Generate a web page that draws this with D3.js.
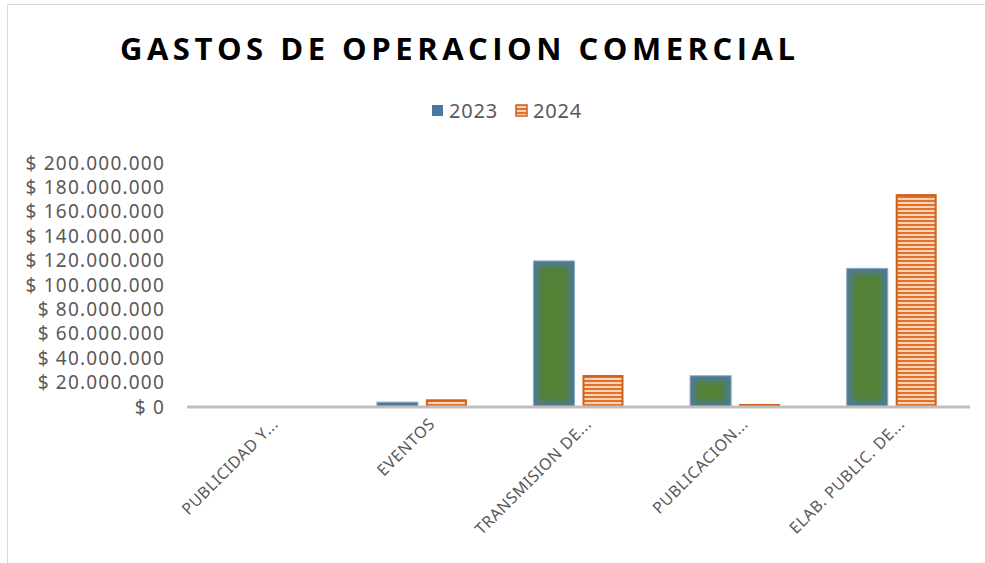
<!DOCTYPE html>
<html>
<head>
<meta charset="utf-8">
<script src="https://cdn.jsdelivr.net/npm/d3@7"></script>
<style>
  body { margin: 0; background: #fff; }
  svg { display: block; }
</style>
</head>
<body>
<script>
// data
var categories = ['PUBLICIDAD Y...', 'EVENTOS', 'TRANSMISION DE...', 'PUBLICACION...', 'ELAB. PUBLIC. DE...']
var years = ['2023', '2024']
var values2023 = [0, 4000000, 119700000, 25600000, 113600000]
var values2024 = [0, 6300000, 26200000, 2500000, 174500000]
var yTicks = [0, 20000000, 40000000, 60000000, 80000000, 100000000, 120000000, 140000000, 160000000, 180000000, 200000000]

var width = 985
var height = 563
var margin = { top: 163, right: 15, bottom: 156, left: 187 }

var svg = d3.select('body').append('svg')
  .attr('width', width)
  .attr('height', height)

var defs = svg.append('defs')

// horizontal stripes for 2024
var pat = defs.append('pattern')
  .attr('id', 'stripes')
  .attr('patternUnits', 'userSpaceOnUse')
  .attr('width', 8)
  .attr('height', 4)
pat.append('rect').attr('width', 8).attr('height', 4).attr('fill', '#fbd3b5')
pat.append('rect').attr('width', 8).attr('height', 2).attr('fill', '#e2712c')

// soft green glow inside the 2023 bars
defs.append('filter')
  .attr('id', 'soft')
  .attr('x', '-20%').attr('y', '-20%').attr('width', '140%').attr('height', '140%')
  .append('feGaussianBlur')
  .attr('stdDeviation', 3)

// frame
svg.append('path')
  .attr('d', 'M7.5,563 V4.5 H985')
  .attr('fill', 'none')
  .attr('stroke', '#d9d9d9')
  .attr('stroke-width', 1)

// title
svg.append('text')
  .attr('x', 120)
  .attr('y', 60)
  .attr('textLength', 675)
  .attr('lengthAdjust', 'spacing')
  .style('font-family', '"Open Sans", sans-serif')
  .style('font-weight', 'bold')
  .style('font-size', '31px')
  .style('fill', '#000')
  .text('GASTOS DE OPERACION COMERCIAL')

// legend
var legend = svg.append('g')
var legendX = [432, 516]
legend.selectAll('rect')
  .data(years)
  .enter().append('rect')
  .attr('x', function (d, i) { return legendX[i] })
  .attr('y', 105)
  .attr('width', 11)
  .attr('height', 11)
  .attr('fill', function (d, i) { return i === 0 ? '#4a78a2' : 'url(#stripes)' })
  .attr('stroke', function (d, i) { return i === 0 ? 'none' : '#d0601c' })
  .attr('stroke-width', 1.5)
legend.selectAll('text')
  .data(years)
  .enter().append('text')
  .attr('x', function (d, i) { return legendX[i] + 17 })
  .attr('y', 111)
  .attr('dy', '0.35em')
  .style('font-family', '"Noto Sans", sans-serif')
  .style('font-size', '20px')
  .style('letter-spacing', '0.8px')
  .style('fill', '#595959')
  .text(function (d) { return d })

// scales
var x0 = d3.scaleBand()
  .domain(categories)
  .range([margin.left, width - margin.right])

var bw = x0.bandwidth()
var x1 = d3.scaleBand()
  .domain(years)
  .range([bw / 2 - 45, bw / 2 + 45])
  .paddingInner(0.163)

var y = d3.scaleLinear()
  .domain([0, 200000000])
  .range([height - margin.bottom, margin.top])

var fmt = function (v) {
  return '$ ' + d3.format(',')(v).replace(/,/g, '.')
}

// y axis labels only
var yAxis = svg.append('g')
  .attr('transform', 'translate(' + 165 + ',0)')
  .call(d3.axisLeft(y).tickValues(yTicks).tickFormat(fmt).tickSize(0).tickPadding(0))
yAxis.select('.domain').remove()
yAxis.selectAll('text')
  .style('font-family', '"Noto Sans", sans-serif')
  .style('font-size', '19px')
  .style('letter-spacing', '1.2px')
  .style('fill', '#595959')

// bars
var rows = categories.map(function (c, i) {
  return { cat: c, vals: [values2023[i], values2024[i]] }
})

var groups = svg.selectAll('g.grp')
  .data(rows)
  .enter().append('g')
  .attr('class', 'grp')
  .attr('transform', function (d) { return 'translate(' + x0(d.cat) + ',0)' })

groups.each(function (d) {
  var g = d3.select(this)
  var v = d.vals[0]
  var top = y(v)
  var h = y(0) - top
  if (h > 0) {
    g.append('rect')
      .attr('x', x1('2023'))
      .attr('y', top)
      .attr('width', x1.bandwidth())
      .attr('height', h)
      .attr('fill', '#4d7a9c')
      .attr('stroke', '#8eaac4')
      .attr('stroke-width', 1)
    if (h > 10) {
      g.append('rect')
        .attr('x', x1('2023') + 5)
        .attr('y', top + 5)
        .attr('width', x1.bandwidth() - 10)
        .attr('height', h - 10)
        .attr('fill', '#538135')
        .attr('filter', 'url(#soft)')
    }
  }
  var v2 = d.vals[1]
  var top2 = y(v2)
  var h2 = y(0) - top2
  if (h2 > 0) {
    g.append('rect')
      .attr('x', x1('2024') + 1)
      .attr('y', top2 + 1)
      .attr('width', x1.bandwidth() - 2)
      .attr('height', Math.max(h2 - 1, 0.5))
      .attr('fill', 'url(#stripes)')
      .attr('stroke', '#d0601c')
      .attr('stroke-width', 2)
  }
})

// baseline
svg.append('line')
  .attr('x1', margin.left)
  .attr('x2', width - margin.right)
  .attr('y1', y(0))
  .attr('y2', y(0))
  .attr('stroke', '#bfbfbf')
  .attr('stroke-width', 3)

// category labels
svg.append('g').selectAll('text')
  .data(categories)
  .enter().append('text')
  .attr('transform', function (d) {
    return 'translate(' + (x0(d) + bw / 2 + 10) + ',' + 421 + ') rotate(-45)'
  })
  .attr('text-anchor', 'end')
  .attr('dy', '0.35em')
  .style('font-family', '"Noto Sans", sans-serif')
  .style('font-size', '16px')
  .style('letter-spacing', '0.6px')
  .style('fill', '#595959')
  .text(function (d) { return d })
</script>
</body>
</html>
